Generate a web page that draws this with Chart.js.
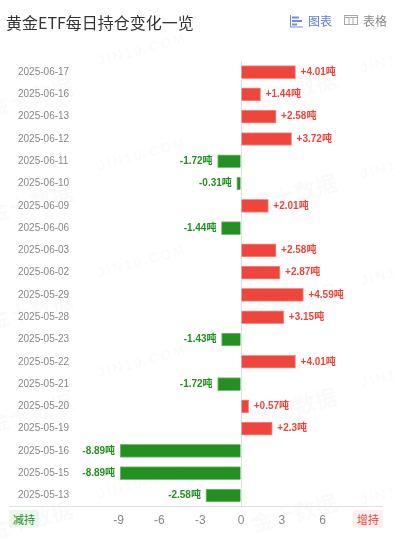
<!DOCTYPE html>
<html>
<head>
<meta charset="utf-8">
<script src="https://cdn.jsdelivr.net/npm/chart.js@4/dist/chart.umd.min.js"></script>
<style>
html, body { margin: 0; padding: 0; background: #fff; }
body { width: 395px; height: 539px; position: relative; overflow: hidden; font-family: "Noto Sans CJK SC", "Liberation Sans", sans-serif; }
#title { position: absolute; left: 6px; top: 12px; font-size: 16px; line-height: 20px; color: #333; }
.tab { position: absolute; top: 12px; font-size: 12px; line-height: 18px; }
.tab svg { position: absolute; left: -19px; top: 2px; }
#tabChart { left: 308px; color: #5b7fe0; }
#tabTable { left: 363px; color: #888; }
.chip { position: absolute; top: 510px; width: 30px; height: 18px; line-height: 18px; font-size: 11px; text-align: center; border-radius: 3px; }
#chipDown { left: 9px; color: #259022; background: #edf7ed; }
#chipUp { left: 353px; color: #ee463c; background: #fdf0ef; }
#wrap { position: absolute; left: 0; top: 0; width: 395px; height: 539px; }
</style>
</head>
<body>
<div id="wrap"><canvas id="chart" width="395" height="539"></canvas></div>
<div id="title">黄金ETF每日持仓变化一览</div>
<div class="tab" id="tabChart"><svg width="14" height="14" viewBox="0 0 14 14"><path d="M1.5 1v12H14" fill="none" stroke="#6f8ae4" stroke-width="1"/><path d="M3 3.5h7M3 7h10M3 10.5h5" stroke="#6f8ae4" stroke-width="2"/></svg>图表</div>
<div class="tab" id="tabTable"><svg width="14" height="12" viewBox="0 0 14 12"><rect x="0.5" y="1.5" width="13" height="9" fill="none" stroke="#aaa"/><path d="M0 3.5h14M5 3v8M9 3v8" stroke="#aaa"/></svg>表格</div>
<div class="chip" id="chipDown">减持</div>
<div class="chip" id="chipUp">增持</div>
<script>
const dates = ['2025-06-17','2025-06-16','2025-06-13','2025-06-12','2025-06-11','2025-06-10','2025-06-09','2025-06-06','2025-06-03','2025-06-02','2025-05-29','2025-05-28','2025-05-23','2025-05-22','2025-05-21','2025-05-20','2025-05-19','2025-05-16','2025-05-15','2025-05-13'];
const changes = [4.01,1.44,2.58,3.72,-1.72,-0.31,2.01,-1.44,2.58,2.87,4.59,3.15,-1.43,4.01,-1.72,0.57,2.3,-8.89,-8.89,-2.58];
const xTicks = [-9,-6,-3,0,3,6];

const RED = '#ee463c';
const GREEN = '#259022';

// faint site watermark behind the bars
const watermark = {
    id: 'watermark',
    beforeDraw(chart) {
        const c = chart.ctx;
        const marks = [
            ['JIN10.COM', 142, 50], ['JIN10.COM', 405, 58], ['金十数据', 30, 97], ['金十数据', 294, 90],
            ['JIN10.COM', 142, 155], ['JIN10.COM', 405, 163], ['金十数据', 30, 203], ['金十数据', 294, 193],
            ['JIN10.COM', 142, 262], ['JIN10.COM', 405, 270], ['金十数据', 30, 310], ['金十数据', 294, 303],
            ['JIN10.COM', 142, 362], ['JIN10.COM', 405, 372], ['金十数据', 30, 413], ['金十数据', 294, 407],
            ['JIN10.COM', 142, 483], ['JIN10.COM', 405, 490], ['金十数据', 30, 520], ['金十数据', 294, 513]
        ];
        c.save();
        c.fillStyle = 'rgba(0,0,0,0.018)';
        c.textAlign = 'center';
        c.textBaseline = 'middle';
        marks.forEach(function(m) {
            c.save();
            c.translate(m[1], m[2]);
            c.rotate(-Math.PI / 12);
            if (m[0] === 'JIN10.COM') {
                c.font = 'bold 14px "Liberation Sans"';
                c.letterSpacing = '2px';
            } else {
                c.font = 'bold 22px "Noto Sans CJK SC"';
                c.letterSpacing = '0px';
            }
            c.fillText(m[0], 0, 0);
            c.restore();
        });
        c.restore();
    }
};

// "+4.01吨" beside every bar
const barLabels = {
    id: 'barLabels',
    afterDatasetsDraw(chart) {
        const c = chart.ctx;
        const bars = chart.getDatasetMeta(0).data;
        c.save();
        c.font = 'bold 10px "Liberation Sans", "Noto Sans CJK SC"';
        c.textBaseline = 'middle';
        bars.forEach(function(bar, i) {
            const v = changes[i];
            c.fillStyle = v < 0 ? GREEN : RED;
            c.textAlign = v < 0 ? 'right' : 'left';
            c.fillText((v > 0 ? '+' : '') + v + '吨', bar.x + (v < 0 ? -5 : 5), bar.y);
        });
        c.restore();
    }
};

new Chart(document.getElementById('chart'), {
    type: 'bar',
    data: {
        labels: dates,
        datasets: [{
            data: changes,
            backgroundColor: changes.map(v => v < 0 ? GREEN : RED),
            borderColor: changes.map(v => v < 0 ? 'rgba(37,144,34,0.6)' : 'rgba(238,70,60,0.6)'),
            borderWidth: 1,
            barThickness: 13
        }]
    },
    options: {
        indexAxis: 'y',
        responsive: false,
        animation: false,
        layout: { padding: { left: 9, right: 12, top: 61, bottom: 4 } },
        plugins: { legend: { display: false }, tooltip: { enabled: false } },
        scales: {
            x: {
                min: -17.06,
                max: 10.44,
                afterBuildTicks(axis) { axis.ticks = xTicks.map(v => ({ value: v })); },
                grid: {
                    drawTicks: false,
                    lineWidth: ctx => ctx.tick && ctx.tick.value === 0 ? 1 : 0,
                    color: '#e0e0e0'
                },
                border: { color: '#e0e0e0' },
                ticks: { color: '#888', font: { size: 12, family: '"Liberation Sans"' }, padding: 7, maxRotation: 0 }
            },
            y: {
                // labels sit inside the plot, so the axis takes no width
                afterFit(axis) { axis.width = 0; },
                grid: { display: false, drawTicks: false },
                border: { display: false },
                ticks: { mirror: true, padding: 9, color: '#888', font: { size: 10, family: '"Liberation Sans"' } }
            }
        }
    },
    plugins: [watermark, barLabels]
});
</script>
</body>
</html>
